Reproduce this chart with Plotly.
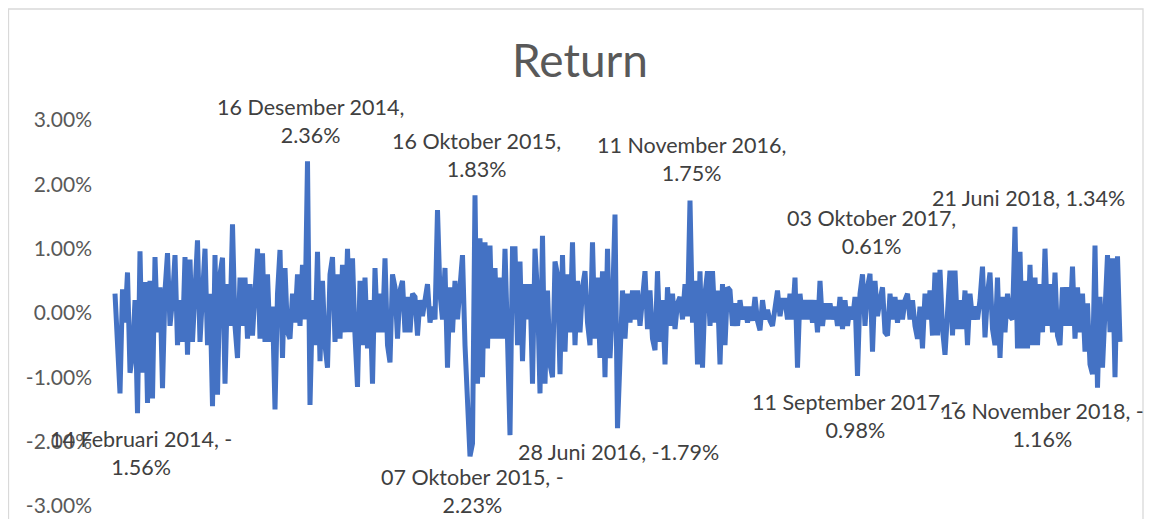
import plotly.graph_objects as go

# Daily return (%), left to right, in chunks
ret_a = [0.30, -0.55, -1.25, 0.37, -0.15, 0.63, -0.93, -0.65, 0.20, -1.56,
         0.96, -0.93, 0.48, -1.40, 0.50, -1.33, 0.87, -0.30, 0.40, -1.17,
         0.35, 0.93, -0.20, 0.20, 0.90, -0.50, 0.20, -0.45, 0.87, -0.65,
         0.83, -0.45, 0.30, 1.13, -0.45, 0.20, 1.00, -0.50, 0.30, -1.45,
         0.90, -1.27, 0.60, 0.86, -1.10, 0.45, -0.20, 1.38, -0.20, -0.70,
         0.55, -0.20]
ret_b = [0.55, -0.40, 0.45, -0.35, 0.20, 1.00, -0.40, 0.93, -0.45, 0.60,
         -0.45, 0.10, -1.50, 0.30, 0.98, -0.70, 0.70, -0.30, -0.40, 0.30,
         -0.15, 0.60, -0.20, 0.75, -0.10, 2.36, -1.43, 0.20, -0.50, 0.95,
         -0.75, 0.50, -0.50, -0.85, 0.60, 0.87, -0.45, 0.60, -0.40, 0.75,
         -0.30, 1.00, -0.30, 0.85, -0.35, -1.15, 0.50, -0.50, 0.55, -0.55,
         0.20, -1.10, 0.70, -0.30]
ret_c = [0.30, -0.30, 0.85, -0.50, -0.77, 0.60, 0.40, -0.40, 0.35, 0.50,
         -0.30, 0.25, -0.30, 0.30, 0.25, -0.35, 0.20, -0.05, 0.20, 0.45,
         -0.15, 0.10, -0.10, 1.60, 0.30, -0.10, 0.70, -0.85, 0.40, -0.30,
         0.50, -0.10, 0.40, 0.90, -0.50, -1.65, -2.23, -2.03, 1.83, -1.10,
         1.16, -1.00, 1.10, -0.55, 1.05, -0.40, 0.70, -0.40, 0.55, -0.40,
         1.00, -0.40, -1.90, 1.00]
ret_d = [1.00, -0.50, 0.80, -0.75, 0.45, -0.10, 0.45, -1.10, 1.00, 0.30,
         -1.25, 1.20, -1.10, 0.35, -0.80, -1.00, 0.80, 0.60, -0.95, 0.90,
         -0.60, 0.60, -0.30, 1.10, -0.50, 0.50, -0.30, 0.40, 0.65, -0.15,
         -0.50, 1.10, -0.40, 0.55, -0.70, 0.65, -1.00, 1.00, -0.70, 0.10,
         1.53, -1.79, -0.50, 0.35, -0.40, 0.30, -0.15, 0.35, -0.10, 0.35,
         -0.20, 0.20, 0.65, -0.25]
ret_e = [0.35, -0.40, -0.58, 0.65, -0.45, 0.20, -0.80, 0.40, -0.20, 0.30,
         -0.25, 0.15, 0.25, -0.10, 0.45, -0.05, 1.75, -0.15, 0.50, -0.80,
         0.65, -0.85, 0.30, 0.65, -0.20, 0.65, -0.15, 0.35, -0.80, 0.45,
         -0.50, 0.40, 0.35, -0.20, 0.15, -0.20, 0.20, -0.10, 0.10, -0.15,
         0.10, -0.12, 0.25, -0.12, -0.27, 0.20, -0.10, 0.05, -0.12, -0.20,
         0.10, 0.35, -0.05, 0.20]
ret_f = [0.20, -0.10, 0.30, -0.10, 0.55, -0.85, 0.30, -0.10, 0.20, -0.10,
         0.20, -0.15, 0.20, -0.30, 0.50, -0.20, 0.15, -0.10, 0.15, -0.10,
         0.10, -0.20, 0.25, -0.25, 0.20, -0.20, 0.10, -0.10, 0.25, -0.98,
         0.30, 0.60, -0.20, 0.40, 0.61, -0.60, 0.50, -0.05, 0.20, 0.40,
         -0.30, -0.35, 0.30, -0.10, 0.25, -0.15, 0.20, -0.10, 0.20, 0.30,
         -0.10, 0.20, -0.20, -0.40]
ret_g = [0.10, -0.55, 0.30, -0.10, 0.35, -0.35, 0.63, -0.35, 0.67, -0.25,
         -0.65, 0.20, 0.66, -0.35, 0.66, -0.25, 0.20, -0.25, 0.35, -0.50,
         0.30, -0.10, 0.10, -0.10, 0.20, 0.72, -0.38, 0.30, 0.63, -0.25,
         -0.50, 0.55, -0.70, 0.25, -0.30, 0.30, -0.05, -0.10, 1.34, -0.55,
         0.95, -0.55, 0.50, -0.55, 0.75, -0.50, 0.55, -0.50, 0.45, -0.30,
         1.00, -0.20, 0.45, -0.30]
ret_h = [0.63, -0.35, -0.50, 0.40, -0.20, 0.40, -0.20, 0.72, -0.40, 0.40,
         -0.30, 0.30, -0.60, 0.15, -0.80, -0.95, 1.05, -1.16, 0.25, -0.85,
         0.25, 0.90, -0.30, 0.85, -1.00, 0.88, -0.45]

returns = ret_a + ret_b + ret_c + ret_d + ret_e + ret_f + ret_g + ret_h
days = list(range(len(returns)))

# Data labels
label_dates = ["14 Februari 2014, -<br>1.56%", "16 Desember 2014,<br>2.36%",
               "07 Oktober 2015, -<br>2.23%", "16 Oktober 2015,<br>1.83%",
               "28 Juni 2016, -1.79%", "11 November 2016,<br>1.75%",
               "11 September 2017, -<br>0.98%", "03 Oktober 2017,<br>0.61%",
               "21 Juni 2018, 1.34%", "16 November 2018, -<br>1.16%"]
label_values = [-1.56, 2.36, -2.23, 1.83, -1.79, 1.75, -0.98, 0.61, 1.34, -1.16]
# label placement (pixel offsets) – style only
label_xshift = [3, 3, 2, 1, 1, 1, -2, 1, 13, -55]
label_yshift = [-11, 11, -6, 11, -9, 12, -11, 13, 14, -8]

yticks = [-3, -2, -1, 0, 1, 2, 3]
ytick_text = [f"{v:.2f}%" for v in yticks]

# The page body adds an 8 px margin on every side; size the figure to fit
# the 1152x527 window exactly so no scrollbar appears.
OFF = 8
W, H = 1152 - 2 * OFF, 527 - 2 * OFF
PLOT_L, PLOT_R, PLOT_T, PLOT_B = 100, 1135, 100, 519     # page pixels
ML, MR, MT, MB = PLOT_L - OFF, (W + OFF) - PLOT_R, PLOT_T - OFF, (H + OFF) - PLOT_B
PW, PH = W - ML - MR, H - MT - MB
FIRST_PX, LAST_PX = 115, 1120
step = (LAST_PX - FIRST_PX) / (len(returns) - 1)
x0 = -(FIRST_PX - PLOT_L) / step
x1 = x0 + PW / step

ZERO_Y, PX_PER_PCT = 313, 64.3
y_top = (ZERO_Y - PLOT_T) / PX_PER_PCT
y_bot = -(PLOT_B - ZERO_Y) / PX_PER_PCT

TITLE_C = "#595959"
TICK_C = "#595959"
LABEL_C = "#404040"
FONT = "Lato"

fig = go.Figure()
fig.add_trace(go.Scatter(x=days, y=returns, mode="lines",
                         line=dict(color="#4472C4", width=5),
                         hoverinfo="skip", showlegend=False))

for txt, val, xs, ys in zip(label_dates, label_values, label_xshift, label_yshift):
    i = returns.index(val)
    fig.add_annotation(x=days[i], y=val, text=txt, showarrow=False,
                       xanchor="center", yanchor="bottom" if ys > 0 else "top",
                       xshift=xs, yshift=ys, align="center",
                       font=dict(family=FONT, size=21.5, color=LABEL_C))

def px_x(p):
    return (p - PLOT_L) / PW

def px_y(p):
    return (PLOT_B - p) / PH

fig.add_shape(type="rect", xref="paper", yref="paper",
              x0=px_x(8.5), x1=px_x(1143), y0=px_y(560), y1=px_y(9),
              line=dict(color="#D9D9D9", width=1.3), fillcolor="rgba(0,0,0,0)",
              layer="below")

fig.update_layout(
    width=W, height=H,
    margin=dict(l=ML, r=MR, t=MT, b=MB),
    paper_bgcolor="white", plot_bgcolor="white",
    title=dict(text="Return", xref="container", yref="container",
               x=(580 - OFF) / W, y=1 - (61 - OFF) / H,
               xanchor="center", yanchor="middle",
               font=dict(family=FONT, size=46, color=TITLE_C)),
    xaxis=dict(visible=False, range=[x0, x1]),
    yaxis=dict(range=[y_bot, y_top], tickvals=yticks, ticktext=ytick_text,
               showgrid=False, zeroline=False, showline=False, ticks="",
               ticklabelstandoff=7,
               tickfont=dict(family=FONT, size=21, color=TICK_C)),
    font=dict(family=FONT, color=TITLE_C),
)

fig.write_html("out.html")
